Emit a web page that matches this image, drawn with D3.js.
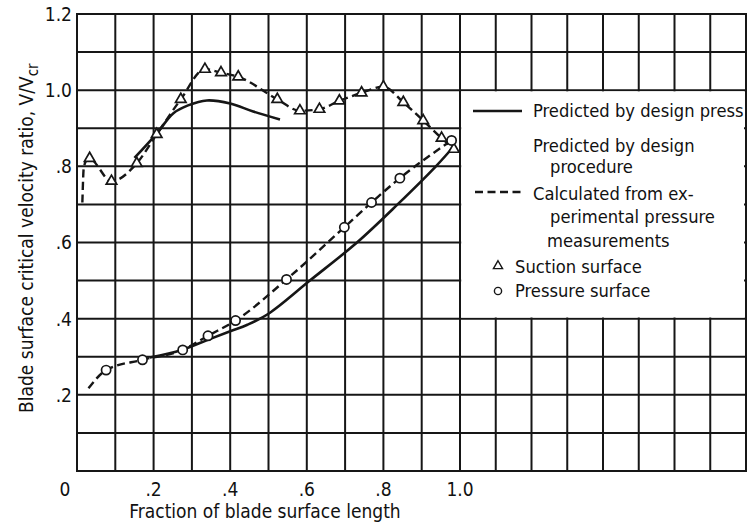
<!DOCTYPE html>
<html>
<head>
<meta charset="utf-8">
<script src="https://cdn.jsdelivr.net/npm/d3@7"></script>
<style>
  html, body { margin: 0; padding: 0; background: #fff; }
  svg { display: block; }
  text { font-family: "Liberation Sans Narrow", "DejaVu Sans Condensed", "Liberation Sans", sans-serif; fill: #111; }
</style>
</head>
<body>
<script>
// Blade surface critical velocity ratio vs. fraction of blade surface length

// Suction surface, predicted by design procedure (solid)
const suctionPredicted = [
  [0.150, 0.822], [0.208, 0.886], [0.251, 0.939], [0.290, 0.960], [0.339, 0.973],
  [0.400, 0.965], [0.460, 0.944], [0.530, 0.923]
];
// Suction surface, calculated from experimental pressure measurements (dashed)
const suctionMeasuredCurve = [
  [0.014, 0.705], [0.018, 0.800], [0.031, 0.821], [0.090, 0.761], [0.156, 0.808],
  [0.208, 0.884], [0.271, 0.976], [0.334, 1.055], [0.376, 1.046], [0.421, 1.035],
  [0.523, 0.976], [0.582, 0.946], [0.633, 0.950], [0.685, 0.972], [0.743, 0.993],
  [0.800, 1.009], [0.852, 0.968], [0.904, 0.920], [0.952, 0.874], [0.984, 0.845]
];
// Suction surface test points (triangles)
const suctionPoints = [
  [0.033, 0.821], [0.090, 0.761], [0.156, 0.808], [0.208, 0.884], [0.271, 0.976],
  [0.334, 1.055], [0.376, 1.046], [0.421, 1.035], [0.523, 0.976], [0.582, 0.946],
  [0.633, 0.950], [0.685, 0.972], [0.743, 0.993], [0.800, 1.009], [0.852, 0.968],
  [0.904, 0.920], [0.952, 0.874], [0.984, 0.845]
];

// Pressure surface, predicted by design procedure (solid)
const pressurePredicted = [
  [0.190, 0.298], [0.273, 0.318], [0.343, 0.345], [0.400, 0.367], [0.445, 0.384],
  [0.500, 0.413], [0.608, 0.500], [0.731, 0.600], [0.837, 0.700], [0.937, 0.800],
  [0.987, 0.856]
];
// Pressure surface, calculated from experimental pressure measurements (dashed)
const pressureMeasuredCurve = [
  [0.030, 0.217], [0.076, 0.265], [0.171, 0.292], [0.276, 0.318], [0.342, 0.355],
  [0.414, 0.395], [0.547, 0.503], [0.698, 0.640], [0.769, 0.705], [0.843, 0.769],
  [0.978, 0.868]
];
// Pressure surface test points (circles)
const pressurePoints = [
  [0.076, 0.265], [0.171, 0.292], [0.276, 0.318], [0.342, 0.355], [0.414, 0.395],
  [0.547, 0.503], [0.698, 0.640], [0.769, 0.705], [0.843, 0.769], [0.978, 0.868]
];

const xTickValues = [0, 0.2, 0.4, 0.6, 0.8, 1.0];
const xTickLabels = ["0", ".2", ".4", ".6", ".8", "1.0"];
const yTickValues = [0.2, 0.4, 0.6, 0.8, 1.0, 1.2];
const yTickLabels = [".2", ".4", ".6", ".8", "1.0", "1.2"];

const W = 747, H = 525;
const svg = d3.select("body").append("svg").attr("width", W).attr("height", H);

// The grid paper runs past x = 1.0 with slightly narrower cells
const x = d3.scaleLinear().domain([0, 1.0, 1.8]).range([77, 460, 746]);
const y = d3.scaleLinear().domain([0, 1.2]).range([471, 14]);

const ink = "#161616";

// Grid
const gx = d3.range(0, 19).map(i => i / 10);
const gy = d3.range(0, 13).map(i => i / 10);
const grid = svg.append("g").attr("stroke", ink).attr("stroke-width", 2);
grid.selectAll("line.v").data(gx).join("line").attr("class", "v")
  .attr("x1", d => x(d)).attr("x2", d => x(d)).attr("y1", y(0) + 1).attr("y2", y(1.2) - 1);
grid.selectAll("line.h").data(gy).join("line").attr("class", "h")
  .attr("x1", x(0) - 1).attr("x2", W).attr("y1", d => y(d)).attr("y2", d => y(d));

// Legend panel cleared out of the grid
svg.append("rect")
  .attr("x", x(1.0) + 1.2).attr("y", y(1.0) + 1.2)
  .attr("width", 744 - x(1.0) - 1.2).attr("height", y(0.4) - y(1.0) - 2.4)
  .attr("fill", "#fff");

// Tick labels
svg.append("g").selectAll("text").data(xTickValues).join("text")
  .attr("x", (d, i) => i === 0 ? x(d) - 12 : x(d))
  .attr("y", 496)
  .attr("text-anchor", "middle")
  .attr("font-size", 19)
  .text((d, i) => xTickLabels[i]);
svg.append("g").selectAll("text").data(yTickValues).join("text")
  .attr("x", 72)
  .attr("y", d => y(d))
  .attr("dy", "0.36em")
  .attr("text-anchor", "end")
  .attr("font-size", 19)
  .text((d, i) => yTickLabels[i]);

// Axis titles
svg.append("text")
  .attr("x", 265).attr("y", 518)
  .attr("text-anchor", "middle")
  .attr("font-size", 19)
  .text("Fraction of blade surface length");

const yt = svg.append("text")
  .attr("transform", "translate(33,413) rotate(-90)")
  .attr("font-size", 19);
yt.append("tspan").text("Blade surface critical velocity ratio,  V/V");
yt.append("tspan").attr("dy", 5).attr("font-size", 15).text("cr");

// Curves
const smooth = d3.line().x(d => x(d[0])).y(d => y(d[1])).curve(d3.curveCatmullRom.alpha(0.5));
const line = d3.line().x(d => x(d[0])).y(d => y(d[1])).curve(d3.curveMonotoneX);
const curves = svg.append("g").attr("fill", "none").attr("stroke", ink)
  .attr("stroke-linecap", "butt").attr("stroke-linejoin", "round");
curves.append("path").datum(suctionPredicted).attr("d", smooth).attr("stroke-width", 2.6);
curves.append("path").datum(pressurePredicted).attr("d", smooth).attr("stroke-width", 2.6);
curves.append("path").datum(suctionMeasuredCurve).attr("d", line)
  .attr("stroke-width", 2.4).attr("stroke-dasharray", "8,4.5");
curves.append("path").datum(pressureMeasuredCurve).attr("d", line)
  .attr("stroke-width", 2.4).attr("stroke-dasharray", "8,4.5");

// Markers
const tri = d3.symbol().type(d3.symbolTriangle).size(48);
svg.append("g").selectAll("path").data(suctionPoints).join("path")
  .attr("d", tri)
  .attr("transform", d => `translate(${x(d[0])},${y(d[1])})`)
  .attr("fill", "#fff").attr("stroke", ink).attr("stroke-width", 1.7);
svg.append("g").selectAll("circle").data(pressurePoints).join("circle")
  .attr("cx", d => x(d[0])).attr("cy", d => y(d[1])).attr("r", 4.6)
  .attr("fill", "#fff").attr("stroke", ink).attr("stroke-width", 1.7);

// Legend
const lg = svg.append("g");
lg.append("line").attr("x1", 473).attr("x2", 522).attr("y1", 111).attr("y2", 111)
  .attr("stroke", ink).attr("stroke-width", 2.4);
lg.append("line").attr("x1", 475).attr("x2", 522).attr("y1", 192).attr("y2", 192)
  .attr("stroke", ink).attr("stroke-width", 2.4).attr("stroke-dasharray", "8,4.5");
const legendLines = [
  [533, 117, "Predicted by design press"],
  [533, 152, "Predicted by design"],
  [550, 173, "procedure"],
  [533, 200, "Calculated from ex-"],
  [550, 223, "perimental pressure"],
  [547, 247, "measurements"],
  [515, 273, "Suction surface"],
  [515, 297, "Pressure surface"]
];
lg.selectAll("text").data(legendLines).join("text")
  .attr("x", d => d[0]).attr("y", d => d[1])
  .attr("font-size", 18.2)
  .text(d => d[2]);
lg.append("path").attr("d", d3.symbol().type(d3.symbolTriangle).size(36))
  .attr("transform", "translate(498,266)")
  .attr("fill", "#fff").attr("stroke", ink).attr("stroke-width", 1.4);
lg.append("circle").attr("cx", 498).attr("cy", 291).attr("r", 3.6)
  .attr("fill", "#fff").attr("stroke", ink).attr("stroke-width", 1.4);
</script>
</body>
</html>
